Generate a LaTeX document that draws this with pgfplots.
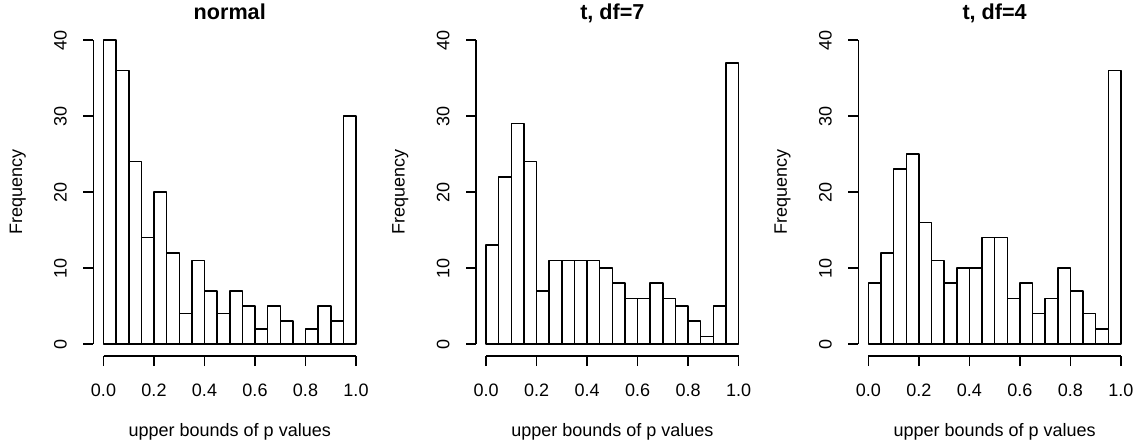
\documentclass[border=0pt]{standalone}
\usepackage{fontspec}
\setmainfont{Liberation Sans}
\usepackage{pgfplots}
\usepackage{pgfplotstable}
\pgfplotsset{compat=1.18}

% Counts per bin of width 0.05; the last row closes the final interval
\pgfplotstableread{
lo   normal tseven tfour
0.00 40 13  8
0.05 36 22 12
0.10 24 29 23
0.15 14 24 25
0.20 20  7 16
0.25 12 11 11
0.30  4 11  8
0.35 11 11 10
0.40  7 11 10
0.45  4 10 14
0.50  7  8 14
0.55  5  6  6
0.60  2  6  8
0.65  5  8  4
0.70  3  6  6
0.75  0  5 10
0.80  2  3  7
0.85  5  1  4
0.90  3  5  2
0.95 30 37 36
1.00 30 37 36
}\pvals

\newcommand{\basefont}{\fontsize{18bp}{21.6bp}\selectfont}

\pgfplotsset{
  histpanel/.style={
    scale only axis, width=272.7bp, height=328.3bp,
    anchor=south west,
    xmin=-0.04, xmax=1.04, ymin=-1.6, ymax=41.6,
    axis x line*=bottom, axis y line*=left,
    axis line style={-, line width=1.5bp, black},
    x axis line style={shorten <=10.1bp, shorten >=10.1bp},
    y axis line style={shorten <=12.16bp, shorten >=12.16bp},
    xtick={0,0.2,0.4,0.6,0.8,1},
    xticklabels={0.0,0.2,0.4,0.6,0.8,1.0},
    ytick={0,10,20,30,40},
    yticklabels={0,10,20,30,40},
    tick align=outside, major tick length=10bp,
    tick style={line width=1.5bp, black},
    tick label style={font=\basefont},
    xticklabel style={anchor=base, yshift=-30bp},
    yticklabel style={xshift=-16.7bp, rotate=90, anchor=base},
    label style={font=\basefont},
    xlabel={upper bounds of p values},
    ylabel={Frequency},
    xlabel style={at={(axis description cs:0.5,-0.2446)}, anchor=base},
    ylabel style={at={(axis description cs:-0.2618,0.5)}, rotate=0, anchor=base},
    every axis title shift=0pt,
    title style={at={(axis description cs:0.5,1.0241)}, anchor=base,
                 font=\bfseries\fontsize{21.6bp}{26bp}\selectfont},
  },
  histbars/.style={ybar interval, draw=black, fill=white,
                   line width=1.5bp, line join=round},
}

\begin{document}
\begin{tikzpicture}
\path[use as bounding box] (0,0) rectangle (1139bp,448bp);

\begin{axis}[histpanel, at={(93.4bp,91.8bp)}, title={normal}]
  \addplot[histbars] table[x=lo, y=normal] {\pvals};
\end{axis}

\begin{axis}[histpanel, at={(476.0bp,91.8bp)}, title={t, df=7}]
  \addplot[histbars] table[x=lo, y=tseven] {\pvals};
\end{axis}

\begin{axis}[histpanel, at={(858.3bp,91.8bp)}, title={t, df=4}]
  \addplot[histbars] table[x=lo, y=tfour] {\pvals};
\end{axis}
\end{tikzpicture}
\end{document}
